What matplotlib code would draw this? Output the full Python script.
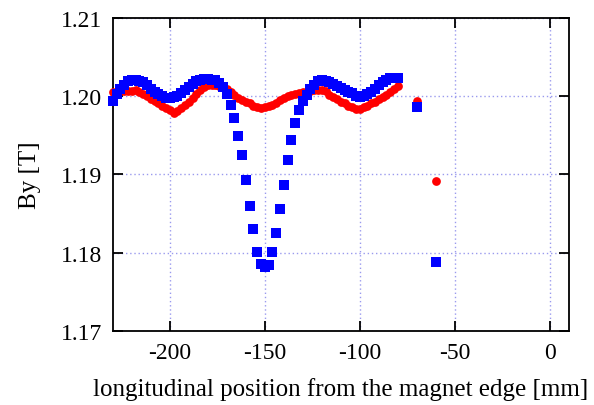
import matplotlib
matplotlib.use("Agg")
import matplotlib.pyplot as plt

# longitudinal positions [mm] of the scan (2 mm steps) plus two outer points
pos_scan = list(range(-230, -79, 2))
pos_outer = [-70, -60]

# By [T], blue squares
by_blue_scan = [
    1.1994, 1.2003, 1.2010, 1.2015, 1.2019, 1.2021, 1.2021, 1.2020, 1.2018, 1.2014,
    1.2010, 1.2006, 1.2003, 1.2000, 1.1998, 1.1998, 1.1999, 1.2001, 1.2004, 1.2008,
    1.2012, 1.2016, 1.2019, 1.2021, 1.2022, 1.2022, 1.2021,
    1.2021, 1.2017, 1.2012, 1.2003, 1.1989, 1.1972, 1.1949, 1.1925, 1.1893, 1.1860,
    1.1830, 1.1801, 1.1785, 1.1781, 1.1784, 1.1801, 1.1825, 1.1856, 1.1887, 1.1919,
    1.1944,
    1.1966, 1.1983, 1.1994, 1.2002, 1.2009, 1.2015, 1.2019, 1.2021, 1.2020, 1.2018,
    1.2016, 1.2013, 1.2011, 1.2008, 1.2006, 1.2004, 1.2001, 1.1999, 1.2000, 1.2003,
    1.2006, 1.2010, 1.2014, 1.2018, 1.2021, 1.2023, 1.2024, 1.2024,
]
by_blue_outer = [1.1986, 1.1788]

# By [T], red circles
by_red_scan = [
    1.2005, 1.2006, 1.2007, 1.2007, 1.2007, 1.2007, 1.2008, 1.2006, 1.2003, 1.2000,
    1.1997, 1.1994, 1.1991, 1.1988, 1.1985, 1.1982, 1.1979, 1.1981, 1.1985, 1.1989,
    1.1993, 1.1998, 1.2003, 1.2008, 1.2012, 1.2014, 1.2015, 1.2014, 1.2013, 1.2012,
    1.2010, 1.2006, 1.2002, 1.1998, 1.1995, 1.1993, 1.1991, 1.1988, 1.1986, 1.1985,
    1.1986, 1.1987, 1.1989, 1.1991, 1.1995, 1.1998, 1.2000, 1.2002, 1.2003, 1.2004,
    1.2005, 1.2006, 1.2007, 1.2008, 1.2008, 1.2008, 1.2007, 1.2002, 1.1999, 1.1996,
    1.1993, 1.1991, 1.1988, 1.1986, 1.1984, 1.1984, 1.1986, 1.1988, 1.1991, 1.1993,
    1.1996, 1.1999, 1.2002, 1.2005, 1.2009, 1.2013,
]
by_red_outer = [1.1994, 1.1891]

x_ticks = [-200, -150, -100, -50, 0]
y_ticks = [1.17, 1.18, 1.19, 1.20, 1.21]

plt.rcParams['font.family'] = ['Liberation Serif', 'DejaVu Serif']
plt.rcParams['font.size'] = 18
plt.rcParams['axes.unicode_minus'] = False

fig = plt.figure(figsize=(5.94, 4.06), dpi=100)
ax = fig.add_axes([0.19, 0.183, 0.7676, 0.7697])

ax.plot(pos_scan + pos_outer, by_red_scan + by_red_outer, 'o', color='#ff0000',
        markersize=6.3, markeredgewidth=0, zorder=3, clip_on=False)
ax.plot(pos_scan + pos_outer, by_blue_scan + by_blue_outer, 's', color='#0000ff',
        markersize=6.9, markeredgewidth=0, zorder=4, clip_on=False)

ax.set_xlim(-230, 10)
ax.set_ylim(1.17, 1.21)
ax.set_xticks(x_ticks)
ax.set_yticks(y_ticks)
ax.set_yticklabels([f"{v:.2f}" for v in y_ticks])
ax.tick_params(direction='in', length=7, width=1.3, top=True, right=True,
               labelsize=17, pad=8)
ax.grid(True, linestyle=(0, (1, 2)), color='#9a9aee', linewidth=1)
for sp in ax.spines.values():
    sp.set_linewidth(1.3)

ax.set_xlabel('longitudinal position from the magnet edge [mm]', labelpad=10)
ax.set_ylabel('By [T]', labelpad=14)

fig.savefig('out.png', dpi=100)
